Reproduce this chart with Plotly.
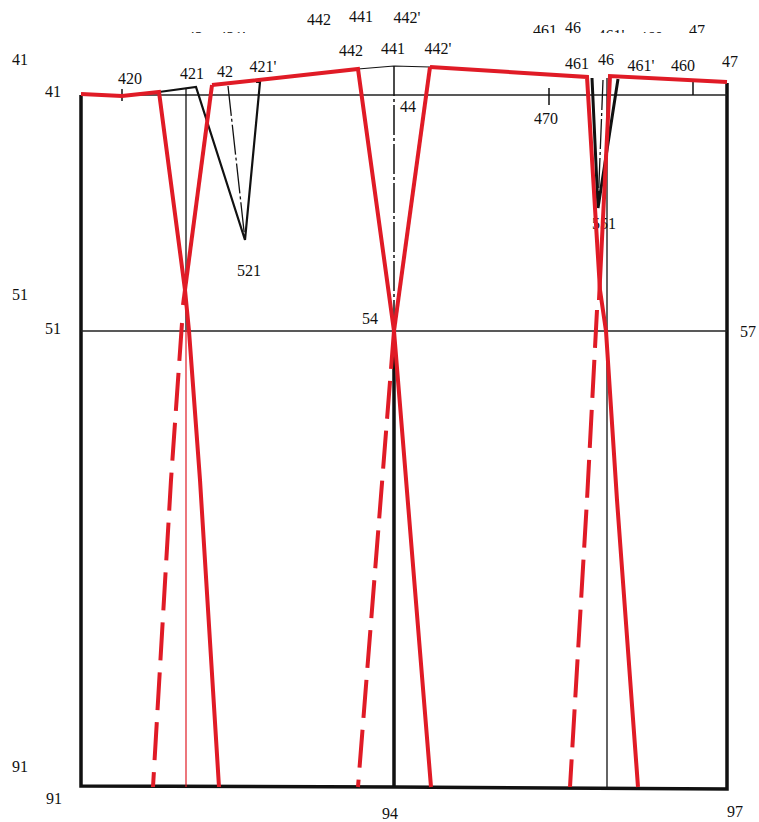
import plotly.graph_objects as go

# Pattern drawing measured in picture units (x to the right, y downward)
frame_x = [81, 81, 394, 727, 727]
frame_y = [95, 786, 787, 789, 83]
waist_x = [81, 727]
waist_y = [95, 95]
hip_x = [81, 727]
hip_y = [331, 331]
mid_x = [394, 394]
mid_y = [355, 787]
side_guide_x = [607, 607]
side_guide_y = [78, 787]
left_guide_x = [186, 186]
left_guide_y = [88, 330]
left_guide_low_x = [186, 186]
left_guide_low_y = [330, 787]
center_dash_x = [394, 394]
center_dash_y = [66, 355]
dart_a_x = [159, 196, 245, 260, 256]
dart_a_y = [92, 87, 240, 82, 82]
dart_a_axis_x = [228, 245]
dart_a_axis_y = [86, 240]
top_thin_x = [358, 394, 430]
top_thin_y = [69, 66, 67]
dart_c_x = [592, 598, 618]
dart_c_y = [78, 208, 79]
dart_c_axis_x = [603, 598]
dart_c_axis_y = [80, 208]
ticks_x = [[122, 122], [549, 549], [693, 693]]
ticks_y = [[89, 101], [88, 105], [82, 95]]

red_top_x = [81, 122, 159, 185, 189, 200, 219]
red_top_y = [94, 96, 92, 290, 331, 480, 787]
red_b_x = [212, 358, 394, 431]
red_b_y = [85, 69, 331, 787]
red_c_x = [183, 212]
red_c_y = [305, 85]
red_d_x = [430, 394]
red_d_y = [67, 331]
red_e_x = [430, 587, 600, 606, 617, 638]
red_e_y = [67, 77, 290, 331, 500, 787]
red_f_x = [727, 610, 599]
red_f_y = [82, 76, 300]

red_dash_x = [[182, 171, 153], [394, 358], [597, 587, 570]]
red_dash_y = [[323, 480, 787], [331, 787], [310, 500, 787]]

clipped_labels = ["442", "441", "442'", "461", "46", "461'", "460", "47", "421'", "42"]
clipped_x = [319, 361, 407, 545, 573, 611, 651, 697, 232, 195]
clipped_y = [21, 18, 19, 32, 29, 37, 39, 32, 39, 39]

labels = ["41", "41", "420", "421", "42", "421'", "442", "441", "442'", "44", "461", "46", "461'", "460", "47",
          "470", "521", "551", "54", "51", "51", "57", "91", "91", "94", "97"]
labels_x = [20, 53, 130, 192, 225, 263, 351, 393, 438, 408, 577, 606, 641, 683, 730,
            546, 249, 604, 370, 20, 53, 748, 20, 54, 390, 735]
labels_y = [61, 93, 80, 75, 73, 68, 52, 50, 50, 108, 65, 61, 67, 67, 63,
            120, 272, 225, 320, 296, 330, 333, 768, 800, 815, 813]

cover_x = [80, 759, 759, 80, 80]
cover_y = [33, 33, 60, 60, 33]

BLACK = "#111111"
RED = "#e01b26"
FONT = "Liberation Serif"

fig = go.Figure()


def line(x, y, color=BLACK, width=1.5, dash="solid"):
    fig.add_trace(go.Scatter(x=x, y=y, mode="lines", hoverinfo="skip",
                             line=dict(color=color, width=width, dash=dash)))


fig.add_trace(go.Scatter(x=clipped_x, y=clipped_y, text=clipped_labels, mode="text", hoverinfo="skip",
                         textfont=dict(family=FONT, size=16, color=BLACK)))
fig.add_trace(go.Scatter(x=cover_x, y=cover_y, mode="none", fill="toself", fillcolor="white", hoverinfo="skip"))
fig.add_trace(go.Scatter(x=labels_x, y=labels_y, text=labels, mode="text", hoverinfo="skip",
                         textfont=dict(family=FONT, size=16, color=BLACK)))

line(frame_x, frame_y, width=3.5)
line(waist_x, waist_y, color="#222222", width=1.5)
line(hip_x, hip_y, color="#222222", width=1.5)
line(mid_x, mid_y, width=3.5)
line(side_guide_x, side_guide_y, width=1.3)
line(left_guide_x, left_guide_y, width=1.3)
line(left_guide_low_x, left_guide_low_y, color=RED, width=1.2)
line(center_dash_x, center_dash_y, width=1.5, dash="30px,3px,3px,3px")
line(dart_a_x, dart_a_y, width=2.2)
line(dart_a_axis_x, dart_a_axis_y, width=1.3, dash="30px,3px,3px,3px")
line(top_thin_x, top_thin_y, width=1.2)
line(dart_c_x, dart_c_y, width=3)
line(dart_c_axis_x, dart_c_axis_y, width=1.3, dash="30px,3px,3px,3px")
for tx, ty in zip(ticks_x, ticks_y):
    line(tx, ty, width=1.5)

for rx, ry in [(red_top_x, red_top_y), (red_b_x, red_b_y), (red_c_x, red_c_y),
               (red_d_x, red_d_y), (red_e_x, red_e_y), (red_f_x, red_f_y)]:
    line(rx, ry, color=RED, width=4)
for rx, ry in zip(red_dash_x, red_dash_y):
    line(rx, ry, color=RED, width=4, dash="38px,12px")

fig.update_layout(
    width=759, height=822, margin=dict(l=0, r=0, t=0, b=0),
    paper_bgcolor="white", plot_bgcolor="white", showlegend=False,
    xaxis=dict(range=[0, 759], visible=False, fixedrange=True),
    yaxis=dict(range=[822, 0], visible=False, fixedrange=True),
)
fig.write_html("out.html", config={"displayModeBar": False},
               default_width="759px", default_height="822px",
               post_script="document.body.style.margin='0';document.documentElement.style.overflow='hidden';")
